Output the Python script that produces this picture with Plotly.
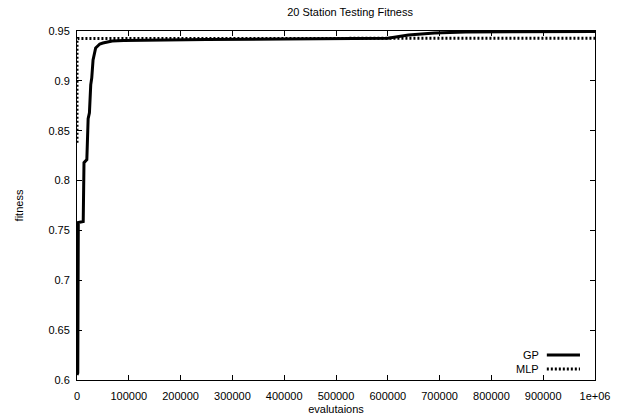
import plotly.graph_objects as go

# GP (solid) series
gp_x = [0, 1500, 2500, 12000, 13500, 19000, 21500, 24000, 26500, 28500, 31000, 34000,
        36000, 40000, 44000, 50000, 58000, 68000, 90000, 150000, 250000, 400000,
        600000, 640000, 690000, 750000, 1000000]
gp_y = [0.605, 0.607, 0.758, 0.759, 0.818, 0.821, 0.862, 0.868, 0.896, 0.903, 0.921, 0.928,
        0.933, 0.935, 0.937, 0.938, 0.939, 0.940, 0.9405, 0.941, 0.9415, 0.942,
        0.9428, 0.946, 0.948, 0.949, 0.9495]

# MLP (dotted) series
mlp_x = [0, 0, 1500, 1000000]
mlp_y = [0.838, 0.9405, 0.9425, 0.9427]

x_ticks = [0, 100000, 200000, 300000, 400000, 500000, 600000, 700000, 800000, 900000, 1000000]
x_tick_text = ["0", "100000", "200000", "300000", "400000", "500000", "600000", "700000",
               "800000", "900000", "1e+06"]
y_ticks = [0.6, 0.65, 0.7, 0.75, 0.8, 0.85, 0.9, 0.95]
y_tick_text = ["0.6", "0.65", "0.7", "0.75", "0.8", "0.85", "0.9", "0.95"]

FONT = "Liberation Sans, Arial, sans-serif"

fig = go.Figure()
fig.add_trace(go.Scatter(x=gp_x, y=gp_y, mode="lines", name="GP",
                         line=dict(color="black", width=3), showlegend=False))
fig.add_trace(go.Scatter(x=mlp_x, y=mlp_y, mode="lines", name="MLP",
                         line=dict(color="black", width=3, dash="2px,2px"), showlegend=False))

# custom gnuplot-like legend (label then line sample)
legend_items = [("GP", "solid", 0.0716), ("MLP", "2px,2px", 0.0315)]
for label, dash, yy in legend_items:
    fig.add_annotation(x=0.895, y=yy, xref="paper", yref="paper", text=label,
                       showarrow=False, xanchor="right", yanchor="middle",
                       font=dict(family=FONT, size=11, color="black"))
    fig.add_shape(type="line", xref="paper", yref="paper", x0=0.907, x1=0.971, y0=yy, y1=yy,
                  line=dict(color="black", width=3, dash=dash))

fig.update_layout(
    width=624, height=416,
    margin=dict(l=77, r=29, t=31, b=36, autoexpand=False),
    paper_bgcolor="white", plot_bgcolor="white",
    font=dict(family=FONT, size=11, color="black"),
    title=dict(text="20 Station Testing Fitness", x=0.561, xanchor="center",
               y=0.971, yanchor="middle", xref="container", yref="container",
               font=dict(family=FONT, size=11, color="black")),
    xaxis=dict(range=[0, 1000000], tickvals=x_ticks, ticktext=x_tick_text,
               ticks="inside", ticklen=5, tickcolor="black", showgrid=False, zeroline=False,
               showline=True, linecolor="black", linewidth=1, mirror="allticks",
               automargin=False, ticklabelstandoff=6,
               title=dict(text="evalutaions", standoff=4, font=dict(family=FONT, size=11))),
    yaxis=dict(range=[0.6, 0.95], tickvals=y_ticks, ticktext=y_tick_text,
               ticks="inside", ticklen=5, tickcolor="black", showgrid=False, zeroline=False,
               showline=True, linecolor="black", linewidth=1, mirror="allticks",
               automargin=False, ticklabelstandoff=4,
               title=dict(text="fitness", standoff=22, font=dict(family=FONT, size=11))),
)

fig.write_html("out.html", config={"displayModeBar": False},
               post_script="document.body.style.margin='0';document.body.style.overflow='hidden';")
